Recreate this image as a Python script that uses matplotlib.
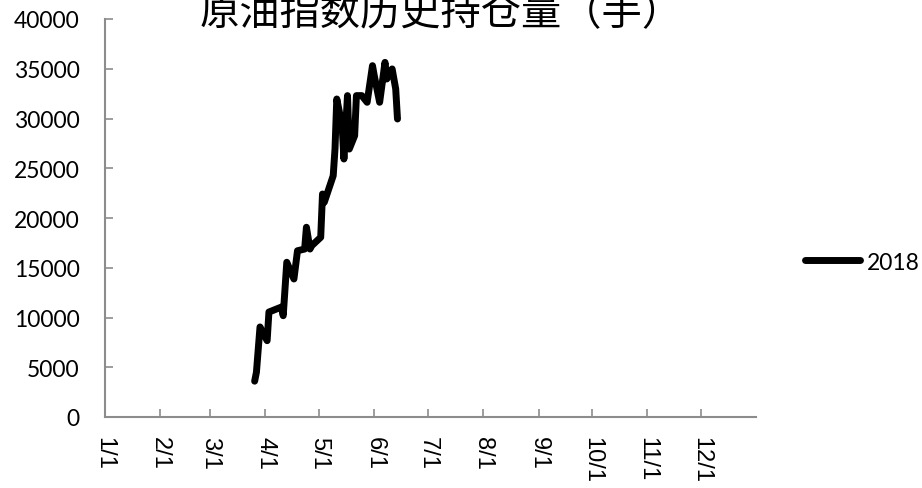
import numpy as np
import pandas as pd
import matplotlib
matplotlib.use("Agg")
import matplotlib.pyplot as plt

# 原油指数持仓量 2018 (手)
dates = ["2018-03-26", "2018-03-27", "2018-03-29", "2018-04-02", "2018-04-03",
         "2018-04-10", "2018-04-11", "2018-04-13", "2018-04-17", "2018-04-19",
         "2018-04-23", "2018-04-24", "2018-04-26", "2018-04-27", "2018-05-02",
         "2018-05-03", "2018-05-04", "2018-05-09", "2018-05-10", "2018-05-11",
         "2018-05-14", "2018-05-15", "2018-05-17", "2018-05-18", "2018-05-21",
         "2018-05-22", "2018-05-25", "2018-05-28", "2018-05-31", "2018-06-01",
         "2018-06-04", "2018-06-07", "2018-06-08", "2018-06-11", "2018-06-13",
         "2018-06-14"]
oi_2018 = [3600, 4500, 9050, 7670, 10550,
           11050, 10180, 15550, 13870, 16710,
           16880, 19070, 16880, 17220, 18060,
           22410, 21580, 24250, 26930, 31960,
           29280, 25930, 32300, 26930, 28270,
           32300, 32300, 31630, 35310, 34300,
           31630, 35640, 33970, 34980, 32970,
           29950]
series_label = "2018"
month_labels = ["1/1", "2/1", "3/1", "4/1", "5/1", "6/1",
                "7/1", "8/1", "9/1", "10/1", "11/1", "12/1"]
title = "原油指数历史持仓量（手）"

x = pd.to_datetime(dates)

fig = plt.figure(figsize=(9.22, 4.89), dpi=100)
ax = fig.add_axes([104.65 / 922, 1 - 418 / 489, (756.4 - 104.65) / 922, (418 - 20) / 489])

ax.plot(x, oi_2018, color="black", lw=5, solid_capstyle="round",
        solid_joinstyle="round", label=series_label)

ax.set_xlim(pd.Timestamp("2018-01-01"), pd.Timestamp("2019-01-01"))
ax.set_ylim(0, 40000)
ax.set_yticks(np.arange(0, 40001, 5000))
ticks = pd.date_range("2018-01-01", periods=12, freq="MS")
ax.set_xticks(ticks)
ax.set_xticklabels(month_labels, rotation=270, fontsize=17,
                   family="Liberation Sans", va="top", ha="center")
for lbl in ax.get_yticklabels():
    lbl.set_family("Lato")
    lbl.set_fontsize(16.5)

for s in ["top", "right"]:
    ax.spines[s].set_visible(False)
for s in ["left", "bottom"]:
    ax.spines[s].set_color("#8c8c8c")
    ax.spines[s].set_linewidth(1.5)
ax.tick_params(axis="both", direction="in", length=6, width=1.2, color="#8c8c8c")
ax.tick_params(axis="y", pad=18)
ax.tick_params(axis="x", pad=14)

fig.text(441 / 922, 1 - 14 / 489, title, ha="center", va="center",
         fontsize=29, family=["Noto Sans CJK SC", "DejaVu Sans"], weight="medium")

leg = fig.legend(loc="center left", bbox_to_anchor=(805 / 922, 1 - 263 / 489),
                 frameon=False, handlelength=2.4, handletextpad=0.3,
                 borderpad=0, borderaxespad=0, prop={"family": "Lato", "size": 16.5})

fig.savefig("out.png", dpi=100)
